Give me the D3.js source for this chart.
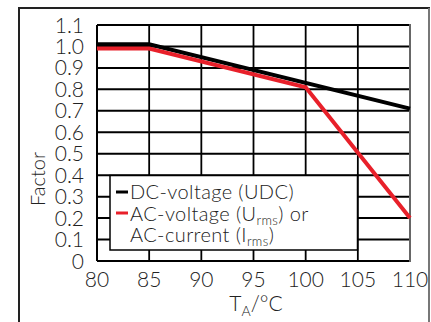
<!DOCTYPE html>
<html><head><meta charset="utf-8">
<script src="https://cdn.jsdelivr.net/npm/d3@7"></script>
<style>
body{margin:0;background:#fff;}
svg text{font-family:Lato, "Open Sans", sans-serif;fill:#222;font-weight:300;}
</style></head>
<body><svg id="c" width="431" height="322"></svg>
<script>
const temps = [80, 85, 90, 95, 100, 105, 110];
const yTicks = [0, 0.1, 0.2, 0.3, 0.4, 0.5, 0.6, 0.7, 0.8, 0.9, 1.0, 1.1];
const yTickLabels = ["0","0.1","0.2","0.3","0.4","0.5","0.6","0.7","0.8","0.9","1.0","1.1"];
const dcT = [80, 85, 110];
const dcV = [1.01, 1.01, 0.71];
const acT = [80, 85, 100, 110];
const acV = [0.99, 0.99, 0.81, 0.20];

const svg = d3.select("#c");
const L = 97, R = 410, T = 25, B = 261;
const x = d3.scaleLinear().domain([80, 110]).range([L, R]);
const y = d3.scaleLinear().domain([0, 1.1]).range([B, T]);

// outer frame
svg.append("path").attr("d", `M19,322 V8 H429 V322`).attr("fill","none")
  .attr("stroke","#222").attr("stroke-width",2);
svg.append("line").attr("x1",429).attr("x2",429).attr("y1",8).attr("y2",322)
  .attr("stroke","#777").attr("stroke-width",2);

// grid
const g = svg.append("g");
g.selectAll("line.h").data(yTicks.slice(1)).join("line")
  .attr("x1", L).attr("x2", R).attr("y1", d=>y(d)).attr("y2", d=>y(d))
  .attr("stroke","#000").attr("stroke-width",2);
g.selectAll("line.v").data(temps.slice(1,-1)).join("line")
  .attr("x1", d=>x(d)).attr("x2", d=>x(d)).attr("y1", T).attr("y2", B)
  .attr("stroke","#000").attr("stroke-width",1.8);
g.append("line").attr("x1",L).attr("x2",L).attr("y1",T).attr("y2",B).attr("stroke","#000").attr("stroke-width",2);
g.append("line").attr("x1",L).attr("x2",R).attr("y1",B).attr("y2",B).attr("stroke","#000").attr("stroke-width",2);
g.append("line").attr("x1",R).attr("x2",R).attr("y1",T-1).attr("y2",B+1).attr("stroke","#666").attr("stroke-width",2);

// lines
const line = d3.line().x(d=>x(d[0])).y(d=>y(d[1]));
svg.append("path").datum(dcT.map((t,i)=>[t,dcV[i]])).attr("d",line)
  .attr("fill","none").attr("stroke","#000").attr("stroke-width",4);
svg.append("path").datum(acT.map((t,i)=>[t,acV[i]])).attr("d",line)
  .attr("fill","none").attr("stroke","#e8202a").attr("stroke-width",4);

// y tick labels
svg.selectAll("text.yt").data(yTicks).join("text")
  .attr("x", 84).attr("y", d=>y(d)+7.5).attr("text-anchor","end")
  .attr("font-size", 21).text((d,i)=>yTickLabels[i]);
// x tick labels
svg.selectAll("text.xt").data(temps).join("text")
  .attr("x", d=>x(d)).attr("y", 287).attr("text-anchor","middle")
  .attr("font-size", 21).text(d=>d);

// axis titles
const xt = svg.append("text").attr("x",256).attr("y",311).attr("text-anchor","middle").attr("font-size",21);
xt.append("tspan").text("T");
xt.append("tspan").attr("font-size",14).attr("dy",5).text("A");
xt.append("tspan").attr("dy",-5).text("/°C");
svg.append("text").attr("transform","translate(45,179) rotate(-90)").attr("text-anchor","middle")
  .attr("font-size",20).text("Factor");

// legend
const lg = svg.append("g");
lg.append("rect").attr("x",110).attr("y",175.5).attr("width",247.5).attr("height",74.5)
  .attr("fill","#fff").attr("stroke","#000").attr("stroke-width",1.5);
lg.append("line").attr("x1",116).attr("x2",128).attr("y1",192).attr("y2",192).attr("stroke","#000").attr("stroke-width",3);
lg.append("line").attr("x1",116).attr("x2",128).attr("y1",213).attr("y2",213).attr("stroke","#e8202a").attr("stroke-width",3);
const fs = 20;
const ls = "0.4px";
lg.append("text").attr("x",130).attr("y",199).attr("font-size",fs).attr("letter-spacing",ls).text("DC-voltage (UDC)");
const t2 = lg.append("text").attr("x",130).attr("y",221).attr("font-size",fs).attr("letter-spacing",ls);
t2.append("tspan").text("AC-voltage (U");
t2.append("tspan").attr("font-size",13).attr("dy",4).text("rms");
t2.append("tspan").attr("dy",-4).text(") or");
const t3 = lg.append("text").attr("x",130).attr("y",242).attr("font-size",fs).attr("letter-spacing",ls);
t3.append("tspan").text("AC-current (I");
t3.append("tspan").attr("font-size",13).attr("dy",4).text("rms");
t3.append("tspan").attr("dy",-4).text(")");
</script></body></html>
